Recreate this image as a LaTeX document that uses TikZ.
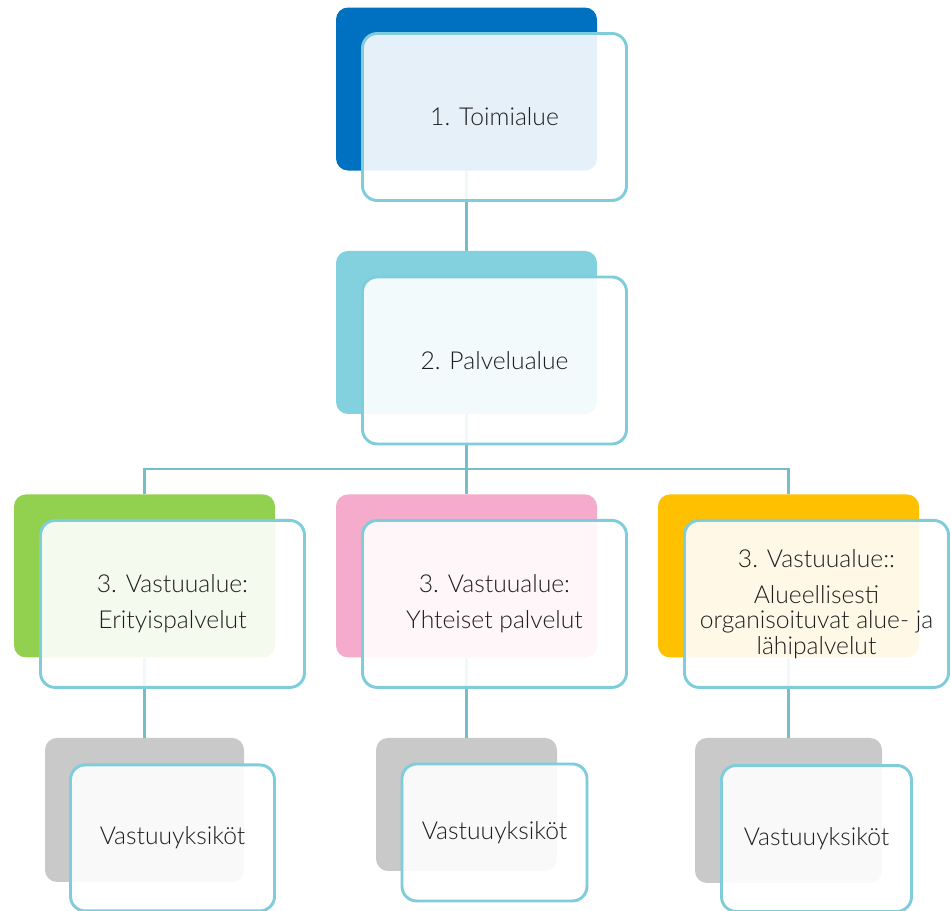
\documentclass[tikz,border=0pt]{standalone}
\usepackage{fontspec}
\setmainfont{Lato Light}
\usepackage{xcolor}
\usepackage{tikz}
\definecolor{toimi}{HTML}{0070C0}
\definecolor{palvelu}{HTML}{83D0DE}
\definecolor{erityis}{HTML}{92D050}
\definecolor{yhteis}{HTML}{F5ABCB}
\definecolor{alue}{HTML}{FFC000}
\definecolor{yksikko}{HTML}{C9C9C9}
\definecolor{reuna}{HTML}{7FCDDA}
\definecolor{viiva}{HTML}{74BECA}
\definecolor{teksti}{HTML}{1E1E1E}
\tikzstyle{back} = [rectangle, rounded corners = 9pt, inner sep = 0pt, minimum width = 195.75pt, minimum height = 122.25pt]
\tikzstyle{front} = [rectangle, draw = reuna, line width = 2.2pt, rounded corners = 11pt, fill = white, fill opacity = 0.9, text opacity = 1, text = teksti, align = center, inner sep = 0pt, minimum width = 198pt, minimum height = 125.25pt, font = \fontsize{18.5}{19}\selectfont]
\tikzstyle{line} = [draw = viiva, line width = 2.2pt]

\begin{document}
\begin{tikzpicture}[x = 0.75pt, y = -0.75pt]
        \useasboundingbox (0,0) rectangle (951,911);
        \node (B1) [back, fill = toimi] at (466.5,89) {};
        \node (B2) [back, fill = palvelu, below of = B1, node distance = 182.6pt] {};
        \node (B3b) [back, fill = yhteis, below of = B2, node distance = 182.6pt] {};
        \node (B3a) [back, fill = erityis, left of = B3b, node distance = 241.5pt] {};
        \node (B3c) [back, fill = alue, right of = B3b, node distance = 241.5pt] {};
        \node (B4a) [back, fill = yksikko, minimum width = 149.25pt, minimum height = 108pt, below of = B3a, node distance = 175.5pt] {};
        \node (B4b) [back, fill = yksikko, minimum width = 135.75pt, minimum height = 99.75pt, below of = B3b, node distance = 171.4pt] {};
        \node (B4c) [back, fill = yksikko, minimum width = 140.25pt, minimum height = 108.75pt, below of = B3c, node distance = 175.9pt] {};
        \coordinate (bus) at (466.5,469);
        \draw[line] (B1.south) -- (B2.north);
        \draw[line] (B2.south) -- (bus);
        \draw[line] (B3a.north) |- (bus) -| (B3c.north);
        \draw[line] (bus) -- (B3b.north);
        \draw[line] (B3a.south) -- (B4a.north);
        \draw[line] (B3b.south) -- (B4b.north);
        \draw[line] (B3c.south) -- (B4c.north);
        \node (F1) [front, below right of = B1, node distance = 29.7pt] {1. Toimialue};
        \node (F2) [front, below right of = B2, node distance = 29.7pt] {2. Palvelualue};
        \node (F3a) [front, below right of = B3a, node distance = 29.7pt] {3. Vastuualue:\\[8pt]Erityispalvelut};
        \node (F3b) [front, below right of = B3b, node distance = 29.7pt] {3. Vastuualue:\\[8pt]Yhteiset palvelut};
        \node (F3c) [front, below right of = B3c, node distance = 29.7pt] {3. Vastuualue::\\[8pt]Alueellisesti\\organisoituvat alue- ja\\lähipalvelut};
        \node (F4a) [front, minimum width = 153pt, minimum height = 109.5pt, below right of = B4a, node distance = 29.7pt] {Vastuuyksiköt};
        \node (F4b) [front, minimum width = 138.75pt, minimum height = 102.75pt, below right of = B4b, node distance = 29.7pt] {Vastuuyksiköt};
        \node (F4c) [front, minimum width = 142.5pt, minimum height = 109.5pt, below right of = B4c, node distance = 29.7pt] {Vastuuyksiköt};
    \end{tikzpicture}
\end{document}
